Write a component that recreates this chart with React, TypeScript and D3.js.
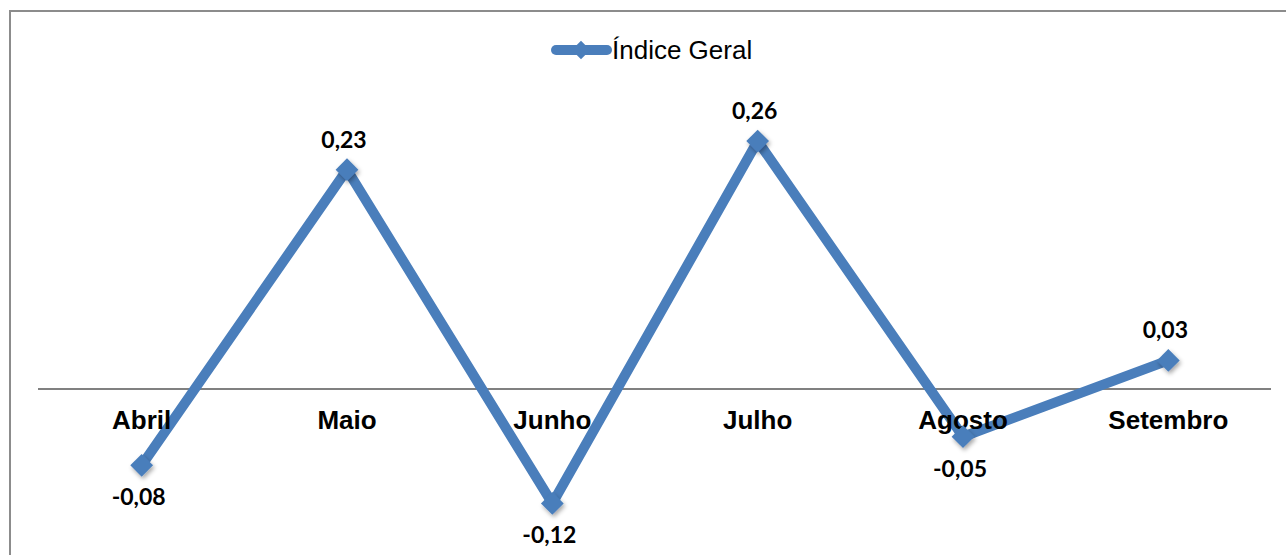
import React, {useEffect, useRef} from "react";
import * as d3 from "d3";

const months = ["Abril", "Maio", "Junho", "Julho", "Agosto", "Setembro"];
const indiceGeral = [-0.08, 0.23, -0.12, 0.26, -0.05, 0.03];
const seriesName = "Índice Geral";

const W = 1286;
const H = 555;
const blue = "#4a7ebb";

const App = () => {
    const ref = useRef<SVGSVGElement>(null);

    useEffect(() => {
        const svg = d3.select(ref.current);
        svg.selectAll("*").remove();

        const x = d3.scaleBand().domain(months).range([39, 1271]);
        const y = d3.scaleLinear().domain([-0.16, 0.3]).range([541.6, 102.9]);
        const cx = (m: string) => (x(m) as number) + x.bandwidth() / 2;

        const defs = svg.append("defs");
        const f = defs.append("filter").attr("id", "shadow")
            .attr("x", "-50%").attr("y", "-50%").attr("width", "200%").attr("height", "200%");
        f.append("feDropShadow").attr("dx", 1.5).attr("dy", 2.5).attr("stdDeviation", 2)
            .attr("flood-color", "#000").attr("flood-opacity", 0.35);

        // frame
        svg.append("rect").attr("x", 10).attr("y", 11).attr("width", W + 20).attr("height", H + 20)
            .attr("fill", "white").attr("stroke", "#8c8c8c").attr("stroke-width", 2);

        // zero line
        svg.append("line").attr("x1", 38).attr("x2", 1271).attr("y1", y(0)).attr("y2", y(0))
            .attr("stroke", "#808080").attr("stroke-width", 2);

        const pts = months.map((m, i) => ({m, v: indiceGeral[i]}));

        const line = d3.line<{m: string, v: number}>().x(d => cx(d.m)).y(d => y(d.v));
        svg.append("path").datum(pts).attr("d", line)
            .attr("fill", "none").attr("stroke", blue).attr("stroke-width", 10)
            .attr("stroke-linejoin", "round");

        // category labels (drawn over the line, like the original)
        svg.append("g").selectAll("text").data(months).join("text")
            .attr("x", d => cx(d)).attr("y", 429)
            .attr("text-anchor", "middle")
            .attr("font-family", "Liberation Sans, Arial, sans-serif")
            .attr("font-weight", "bold").attr("font-size", 26)
            .attr("fill", "#000")
            .text(d => d);

        const diamond = d3.symbol().type(d3.symbolDiamond2).size(330);
        svg.append("g").selectAll("path").data(pts).join("path")
            .attr("d", diamond)
            .attr("transform", d => `translate(${cx(d.m)},${y(d.v)})`)
            .attr("fill", blue)
            .attr("filter", "url(#shadow)");

        // data labels
        svg.append("g").selectAll("text").data(pts).join("text")
            .attr("x", d => cx(d.m) - 3)
            .attr("y", d => d.v >= 0 ? y(d.v) - 22 : y(d.v) + 40)
            .attr("text-anchor", "middle")
            .attr("font-family", "Lato, sans-serif")
            .attr("font-weight", "bold").attr("font-size", 23)
            .attr("fill", "#000")
            .text(d => d3.format(".2f")(d.v).replace(".", ",").replace("−", "-"));

        // legend
        const lg = svg.append("g");
        lg.append("line").attr("x1", 556).attr("x2", 607).attr("y1", 50).attr("y2", 50)
            .attr("stroke", blue).attr("stroke-width", 10).attr("stroke-linecap", "round");
        lg.append("path").attr("d", d3.symbol().type(d3.symbolDiamond2).size(220))
            .attr("transform", "translate(581,50)").attr("fill", blue);
        lg.append("text").attr("x", 612).attr("y", 59)
            .attr("font-family", "Liberation Sans, Arial, sans-serif")
            .attr("font-size", 26).attr("fill", "#000")
            .text(seriesName);
    }, []);

    return (
        <svg
            width={W}
            height={H}
            ref={ref}
            style={{position: "absolute", left: 0, top: 0, display: "block"}}
        />
    );
};

export default App;
